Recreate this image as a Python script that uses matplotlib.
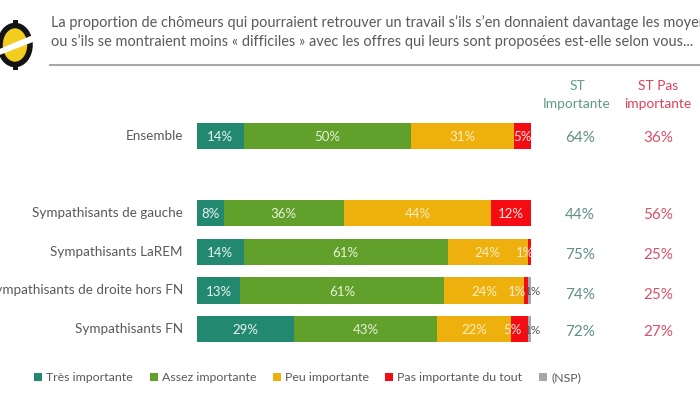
import numpy as np
import matplotlib
matplotlib.use("Agg")
import matplotlib.pyplot as plt
from matplotlib.patches import Ellipse, Polygon, Rectangle

plt.rcParams["font.family"] = ["Lato", "DejaVu Sans"]

# Data
groups = ["Ensemble", "Sympathisants de gauche", "Sympathisants LaREM",
          "Sympathisants de droite hors FN", "Sympathisants FN"]
tres = [14, 8, 14, 13, 29]
assez = [50, 36, 61, 61, 43]
peu = [31, 44, 24, 24, 22]
pas = [5, 12, 1, 1, 5]
nsp = [0, 0, 0, 1, 1]
st_imp = ["64%", "44%", "75%", "74%", "72%"]
st_pas = ["36%", "56%", "25%", "25%", "27%"]
series_names = ["Très importante", "Assez importante", "Peu importante",
                "Pas importante du tout", "(NSP)"]

# Style
colors = ["#22886f", "#62a02c", "#edb00c", "#f40c12", "#a6a6a6"]
text_colors = ["#e8f5f0", "#e8f2d8", "#fdf0c0", "#fbe8e0", "#555555"]
label_sizes = [9.5, 9.5, 9.5, 9.5, 8.5]
row_y = [136, 213, 252, 290.5, 329]
summary_y = [138, 214.5, 255, 295, 332]
# label shifts for the thin segments, (series, row) -> bar units
nudges = {(3, 2): -1.3, (3, 3): -2.7, (3, 4): -2.0, (4, 3): 1.0, (4, 4): 0.9}
bar_h = 26.5
W, H = 700, 394

fig = plt.figure(figsize=(W / 100, H / 100), dpi=100)

# Overlay in pixel coordinates for texts and decoration
bg = fig.add_axes([0, 0, 1, 1])
bg.set_xlim(0, W)
bg.set_ylim(H, 0)
bg.axis("off")

# Bars
ax = fig.add_axes([197 / W, 0, (531 - 197) / W, 1])
ax.set_xlim(0, 100)
ax.set_ylim(H, 0)
ax.axis("off")
ax.patch.set_alpha(0)

left = np.zeros(len(groups))
all_series = [tres, assez, peu, pas, nsp]
for i, vals in enumerate(all_series):
    vals = np.array(vals)
    ax.barh(row_y, vals, left=left, height=bar_h, color=colors[i], linewidth=0)
    for r, (y, v, l) in enumerate(zip(row_y, vals, left)):
        if v == 0:
            continue
        ax.text(l + v / 2 + nudges.get((i, r), 0), y + 1, f"{v}%", ha="center", va="center",
                fontsize=label_sizes[i], color=text_colors[i], clip_on=False)
    left = left + vals

# Title and rule
bg.text(51, 23, "La proportion de chômeurs qui pourraient retrouver un travail s’ils s’en donnaient davantage les moyens",
        fontsize=10.45, color="#5a5a5a", va="center", ha="left")
bg.text(51, 42, "ou s’ils se montraient moins « difficiles » avec les offres qui leurs sont proposées est-elle selon vous...",
        fontsize=10.45, color="#5a5a5a", va="center", ha="left")
bg.plot([50, 700], [65, 65], color="#a8a8a8", lw=1.5)

# Logo, cut by the left edge
bg.add_patch(Ellipse((15, 45), 30, 39, fc="#f2cc1e", ec="#141414", lw=4))
bg.add_patch(Polygon([[-3, 50], [33, 35], [33, 42], [-3, 56]], fc="white", ec="none"))
bg.add_patch(Rectangle((12.5, 20), 5, 4, fc="#141414", ec="none"))
bg.add_patch(Rectangle((12.5, 66), 5, 4, fc="#141414", ec="none"))

# Group labels
for y, g in zip(row_y, groups):
    bg.text(183, y, g, ha="right", va="center", fontsize=9.75, color="#595959")

# Summary columns
bg.text(577, 86, "ST", ha="center", va="center", fontsize=9.9, color="#5f9a8c")
bg.text(577, 104, "Importante", ha="center", va="center", fontsize=9.9, color="#5f9a8c")
bg.text(658, 86, "ST Pas", ha="center", va="center", fontsize=9.9, color="#e0405a")
bg.text(658, 104, "importante", ha="center", va="center", fontsize=9.9, color="#e0405a")
for y, a, b in zip(summary_y, st_imp, st_pas):
    bg.text(580, y, a, ha="center", va="center", fontsize=11, color="#5f8f85")
    bg.text(658, y, b, ha="center", va="center", fontsize=11, color="#d8506a")

# Legend
legend_x = [34, 150, 273, 385, 539]
for x, name, c in zip(legend_x, series_names, colors):
    bg.add_patch(Rectangle((x, 373), 8, 8, fc=c, ec="none"))
    bg.text(x + 12, 377.5, name, va="center", ha="left", fontsize=8.95, color="#5a5a5a")

fig.savefig("out.png", dpi=100)
